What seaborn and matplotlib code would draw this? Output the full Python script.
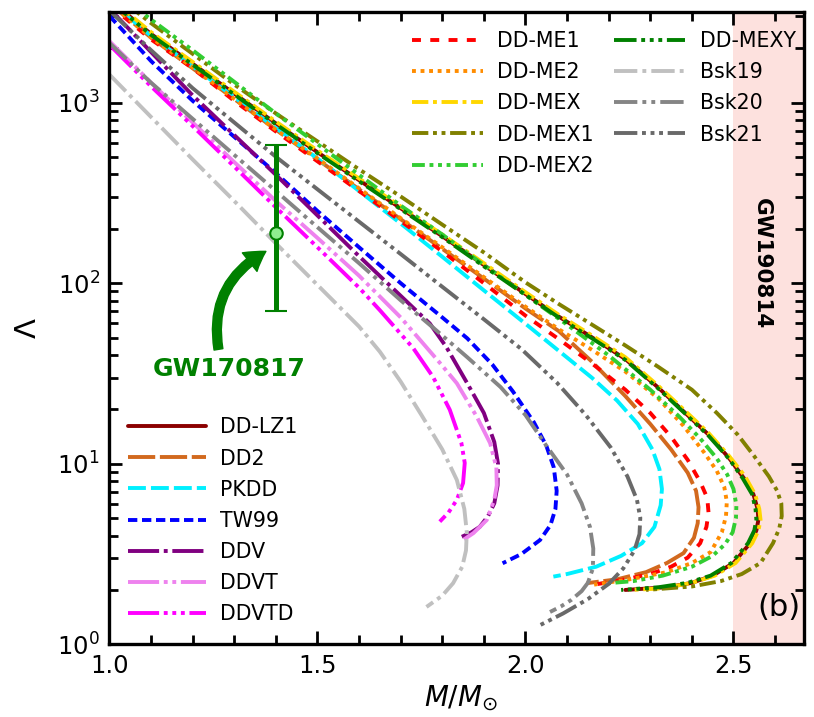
import matplotlib
matplotlib.use("Agg")
import matplotlib.pyplot as plt
from matplotlib.ticker import MultipleLocator, FormatStrFormatter
import seaborn as sns
import pandas as pd

# ---------------- data ----------------
m_ddlz1 = [1.00,1.10,1.20,1.30,1.40,1.50,1.60,1.70,1.80,1.90,2.00,2.08,2.16,2.24,2.32,2.38,2.44,2.49,2.525,2.548,2.558,2.560,2.555,2.540,2.50,2.45,2.40,2.34,2.24]
l_ddlz1 = [3715,2399,1641,1122,767,531,372,260,182,126,87.1,65.3,50.1,38.0,26.3,19.5,14.5,10.7,8.32,6.76,5.62,4.90,4.27,3.63,2.82,2.40,2.19,2.07,2.00]

m_dd2 = [1.00,1.10,1.20,1.30,1.40,1.50,1.60,1.70,1.80,1.90,2.00,2.08,2.16,2.24,2.30,2.35,2.39,2.41,2.416,2.414,2.405,2.38,2.34,2.29,2.22,2.147]
l_dd2 = [3548,2291,1549,1047,708,484,331,226,155,106,72.4,54.3,36.7,23.7,16.6,12.0,8.91,7.08,5.75,4.68,3.89,3.20,2.82,2.51,2.29,2.18]

m_pkdd = [1.00,1.10,1.20,1.30,1.40,1.50,1.60,1.70,1.80,1.90,2.00,2.08,2.16,2.22,2.27,2.305,2.322,2.328,2.325,2.31,2.28,2.23,2.17,2.10,2.067]
l_pkdd = [3631,2344,1585,1072,724,490,324,214,140,91.2,59.6,42.2,29.9,22.4,16.6,12.0,9.33,7.24,5.89,4.47,3.63,3.09,2.69,2.45,2.37]

m_tw99 = [1.00,1.10,1.20,1.30,1.40,1.50,1.60,1.70,1.80,1.86,1.92,1.97,2.02,2.05,2.068,2.075,2.072,2.06,2.035,1.99,1.945]
l_tw99 = [3020,1698,1023,646,407,251,158,100,64.6,49.5,35.5,25.1,17.0,12.6,9.55,7.08,5.62,4.57,3.78,3.16,2.81]

m_ddv = [1.00,1.10,1.20,1.30,1.40,1.50,1.60,1.70,1.77,1.81,1.86,1.90,1.925,1.934,1.933,1.925,1.91,1.89,1.87,1.847]
l_ddv = [3311,1905,1096,661,398,237,141,85.1,59.8,44.2,27.9,19.1,13.2,10.0,7.59,6.03,5.13,4.47,4.17,3.94]

m_ddvt = [1.00,1.10,1.20,1.30,1.40,1.50,1.60,1.70,1.795,1.835,1.883,1.915,1.930,1.931,1.925,1.907,1.875,1.85]
l_ddvt = [2188,1288,776,468,285,178,110,64.6,36.0,27.9,18.2,13.0,9.55,7.59,6.31,4.88,4.13,3.78]

m_ddvtd = [1.00,1.10,1.20,1.30,1.40,1.50,1.60,1.65,1.73,1.778,1.818,1.846,1.854,1.850,1.835,1.815,1.794]
l_ddvtd = [2089,1230,741,442,263,158,94.4,70.8,43.7,30.2,19.9,13.0,10.1,7.82,6.31,5.37,4.78]

m_ddme1 = [1.00,1.10,1.20,1.30,1.40,1.50,1.60,1.70,1.80,1.90,2.00,2.08,2.16,2.24,2.30,2.35,2.39,2.42,2.437,2.440,2.435,2.42,2.39,2.35,2.30,2.24,2.165]
l_ddme1 = [3467,2239,1549,1023,692,473,324,221,150,100,66.1,49.0,35.9,25.7,19.1,14.1,10.5,7.94,6.46,5.37,4.47,3.63,3.02,2.69,2.45,2.29,2.14]

m_ddme2 = [1.00,1.10,1.20,1.30,1.40,1.50,1.60,1.70,1.80,1.90,2.00,2.08,2.16,2.24,2.32,2.38,2.43,2.46,2.478,2.484,2.482,2.472,2.445,2.40,2.34,2.25,2.165]
l_ddme2 = [3548,2291,1567,1047,708,490,335,229,158,108,74.1,55.6,42.7,32.4,22.9,16.2,11.5,9.12,7.41,6.17,5.13,4.17,3.24,2.82,2.51,2.29,2.14]

m_ddmex = [1.00,1.10,1.20,1.30,1.40,1.50,1.60,1.70,1.80,1.90,2.00,2.08,2.16,2.24,2.32,2.38,2.44,2.49,2.528,2.552,2.562,2.565,2.560,2.545,2.505,2.455,2.40,2.33,2.25]
l_ddmex = [3802,2455,1679,1148,785,543,380,266,186,129,89.1,66.8,51.3,38.9,26.9,20.0,14.8,11.0,8.51,6.76,5.62,4.90,4.27,3.63,2.82,2.40,2.19,2.04,2.00]

m_ddmex1 = [1.00,1.10,1.20,1.30,1.40,1.50,1.60,1.70,1.80,1.90,2.00,2.08,2.16,2.24,2.32,2.40,2.46,2.51,2.55,2.585,2.605,2.615,2.616,2.610,2.595,2.565,2.52,2.47,2.40,2.29]
l_ddmex1 = [4169,2754,1862,1259,871,610,427,302,211,148,101,76.7,58.9,45.2,34.3,25.7,19.1,14.5,11.0,8.51,7.08,6.03,5.13,4.37,3.63,2.82,2.45,2.24,2.09,2.00]

m_ddmex2 = [1.00,1.10,1.20,1.30,1.40,1.50,1.60,1.70,1.80,1.90,2.00,2.10,2.20,2.30,2.37,2.42,2.46,2.485,2.50,2.507,2.506,2.498,2.48,2.45,2.40,2.33,2.26,2.20]
l_ddmex2 = [4365,2884,1950,1303,871,589,398,269,186,126,86.1,58.9,39.8,25.7,18.2,13.8,10.7,8.71,7.24,5.89,5.01,4.17,3.59,3.09,2.69,2.40,2.24,2.18]

m_ddmexy = [1.00,1.10,1.20,1.30,1.40,1.50,1.60,1.70,1.80,1.90,2.00,2.08,2.16,2.24,2.32,2.38,2.44,2.49,2.522,2.545,2.553,2.555,2.550,2.535,2.495,2.445,2.39,2.32,2.23]
l_ddmexy = [3673,2371,1622,1109,759,525,367,257,180,124,86.1,64.6,49.5,37.6,26.0,19.3,14.3,10.6,8.32,6.76,5.62,4.90,4.27,3.63,2.82,2.40,2.19,2.07,2.00]

m_bsk19 = [1.00,1.10,1.20,1.30,1.40,1.50,1.60,1.65,1.70,1.75,1.80,1.835,1.853,1.859,1.857,1.848,1.826,1.80,1.762]
l_bsk19 = [1429,832,484,285,166,97.7,57.5,41.7,28.5,18.6,12.0,8.13,5.62,4.17,3.31,2.69,2.18,1.86,1.61]

m_bsk20 = [1.00,1.10,1.20,1.30,1.40,1.50,1.60,1.70,1.78,1.86,1.94,2.00,2.05,2.10,2.135,2.155,2.163,2.162,2.15,2.135,2.11,2.085,2.059]
l_bsk20 = [2138,1288,813,513,324,204,129,80.4,56.2,38.9,26.6,18.6,12.6,8.71,6.03,4.47,3.39,2.63,2.19,1.97,1.76,1.62,1.51]

m_bsk21 = [1.00,1.10,1.20,1.30,1.40,1.50,1.60,1.70,1.80,1.90,1.99,2.075,2.145,2.205,2.245,2.268,2.276,2.274,2.262,2.235,2.20,2.15,2.09,2.027]
l_bsk21 = [3236,1950,1202,776,501,331,219,145,95.5,63.1,43.2,28.2,18.6,12.3,8.51,6.31,5.01,4.07,3.31,2.63,2.16,1.78,1.48,1.25]

names_left = ["DD-LZ1", "DD2", "PKDD", "TW99", "DDV", "DDVT", "DDVTD"]
names_right = ["DD-ME1", "DD-ME2", "DD-MEX", "DD-MEX1", "DD-MEX2", "DD-MEXY", "Bsk19", "Bsk20", "Bsk21"]

gw17_mass = 1.4
gw17_lambda = 190
gw17_low = 70
gw17_high = 580
gw19_band = (2.50, 2.70)

# ---------------- styles ----------------
styles = {
    "DD-LZ1": ("#8b0000", "-"),
    "DD2": ("#d2691e", (0, (7.0, 1.2))),
    "PKDD": ("#00f0ff", (0, (4.6, 1.3))),
    "TW99": ("#0000ff", (0, (2.4, 1.2))),
    "DDV": ("#800080", (0, (8, 1.2, 1.0, 1.2))),
    "DDVT": ("#ee82ee", (0, (8, 1.2, 1.0, 1.2, 1.0, 1.2))),
    "DDVTD": ("#ff00ff", (0, (8, 1.2, 1.0, 1.2, 1.0, 1.2, 1.0, 1.2))),
    "DD-ME1": ("#ff0000", (0, (2.3, 2.4))),
    "DD-ME2": ("#ff8c00", (0, (1.0, 1.2))),
    "DD-MEX": ("#ffd700", (0, (4.2, 1.2, 1.0, 1.2))),
    "DD-MEX1": ("#808000", (0, (4.2, 1.2, 1.0, 1.2, 1.0, 1.2))),
    "DD-MEX2": ("#32cd32", (0, (3.3, 1.2, 1.0, 1.2, 1.0, 1.2, 1.0, 1.2))),
    "DD-MEXY": ("#008000", (0, (5.8, 1.2, 1.0, 1.2, 1.0, 1.2, 1.0, 1.2))),
    "Bsk19": ("#c0c0c0", (0, (6.0, 1.3, 1.0, 1.3))),
    "Bsk20": ("#858585", (0, (6.0, 1.3, 1.0, 1.3, 1.0, 1.3))),
    "Bsk21": ("#696969", (0, (6.0, 1.2, 1.0, 1.2, 1.0, 1.2, 1.0, 1.2))),
}

curves = [
    ("DD-LZ1", m_ddlz1, l_ddlz1), ("DD2", m_dd2, l_dd2), ("PKDD", m_pkdd, l_pkdd),
    ("TW99", m_tw99, l_tw99), ("DDV", m_ddv, l_ddv), ("DDVT", m_ddvt, l_ddvt),
    ("DDVTD", m_ddvtd, l_ddvtd), ("DD-ME1", m_ddme1, l_ddme1), ("DD-ME2", m_ddme2, l_ddme2),
    ("DD-MEX", m_ddmex, l_ddmex), ("DD-MEX1", m_ddmex1, l_ddmex1), ("DD-MEX2", m_ddmex2, l_ddmex2),
    ("DD-MEXY", m_ddmexy, l_ddmexy), ("Bsk19", m_bsk19, l_bsk19), ("Bsk20", m_bsk20, l_bsk20),
    ("Bsk21", m_bsk21, l_bsk21),
]

# ---------------- plot ----------------
sns.set_style("ticks")
plt.rcParams["font.family"] = ["DejaVu Sans"]
plt.rcParams["mathtext.fontset"] = "dejavusans"
plt.rcParams["lines.dash_capstyle"] = "butt"
for key in ["text.color", "axes.labelcolor", "xtick.color", "ytick.color", "axes.edgecolor"]:
    plt.rcParams[key] = "black"

fig = plt.figure(figsize=(8.14, 7.17), dpi=100)
ax = fig.add_axes([0.1345, 0.1014, 0.8532, 0.8814])

ax.axvspan(gw19_band[0], gw19_band[1], color="#fde1de", zorder=0, lw=0)

handles = {}
for name, m, lam in curves:
    df = pd.DataFrame({"M": m, "L": lam})
    color, ls = styles[name]
    sns.lineplot(data=df, x="M", y="L", sort=False, estimator=None, ax=ax,
                 color=color, linewidth=2.8, linestyle=ls, legend=False, label=name)
    handles[name] = ax.lines[-1]

ax.set_yscale("log")
ax.set_xlim(1.0, 2.6695)
ax.set_ylim(1, 10 ** 3.5)

ax.errorbar([gw17_mass], [gw17_lambda],
            yerr=[[gw17_lambda - gw17_low], [gw17_high - gw17_lambda]],
            fmt="o", color="#008000", mfc="#90ee90", mec="#008000", mew=1.5, ms=9,
            elinewidth=3.6, capsize=8, capthick=3.6, zorder=6)

ax.annotate("", xy=(1.376, 150), xytext=(1.262, 43),
            arrowprops=dict(arrowstyle="simple,head_length=0.7,head_width=0.85,tail_width=0.32",
                            connectionstyle="arc3,rad=-0.35", color="#008000",
                            mutation_scale=20, shrinkA=0, shrinkB=0), zorder=6)
ax.text(1.288, 33.4, "GW170817", color="#008000", fontsize=18, fontweight="bold",
        ha="center", va="center")
ax.text(2.568, 129, "GW190814", color="black", fontsize=15.5, fontweight="bold",
        rotation=270, ha="center", va="center")
ax.text(0.964, 0.059, "(b)", transform=ax.transAxes, fontsize=22, ha="center",
        va="center", color="black")

ax.set_xlabel(r"$M/M_{\odot}$", fontsize=20, color="black")
ax.set_ylabel(r"$\Lambda$", fontsize=21, color="black")
ax.xaxis.set_label_coords(0.506, -0.062)
ax.yaxis.set_label_coords(-0.097, 0.5)

ax.xaxis.set_major_locator(MultipleLocator(0.5))
ax.xaxis.set_minor_locator(MultipleLocator(0.1))
ax.xaxis.set_major_formatter(FormatStrFormatter("%.1f"))
ax.tick_params(which="both", direction="in", top=True, right=True, width=2.0,
               labelsize=17.5, pad=7, colors="black")
ax.tick_params(which="major", length=9.5)
ax.tick_params(which="minor", length=6.5)
for sp in ax.spines.values():
    sp.set_linewidth(2.4)
    sp.set_color("black")

leg1 = ax.legend([handles[n] for n in names_left], names_left, loc="lower left",
                 bbox_to_anchor=(0.015, 0.019), frameon=False, fontsize=14.8,
                 handlelength=3.8, handletextpad=0.65, labelspacing=0.54,
                 borderaxespad=0, labelcolor="black")
ax.add_artist(leg1)
ax.legend([handles[n] for n in names_right], names_right, loc="upper right",
          bbox_to_anchor=(1.0, 0.983), frameon=False, fontsize=14.8, ncol=2,
          handlelength=3.45, handletextpad=0.7, labelspacing=0.54,
          columnspacing=1.0, borderaxespad=0, labelcolor="black")

fig.savefig("out.png", dpi=100)
